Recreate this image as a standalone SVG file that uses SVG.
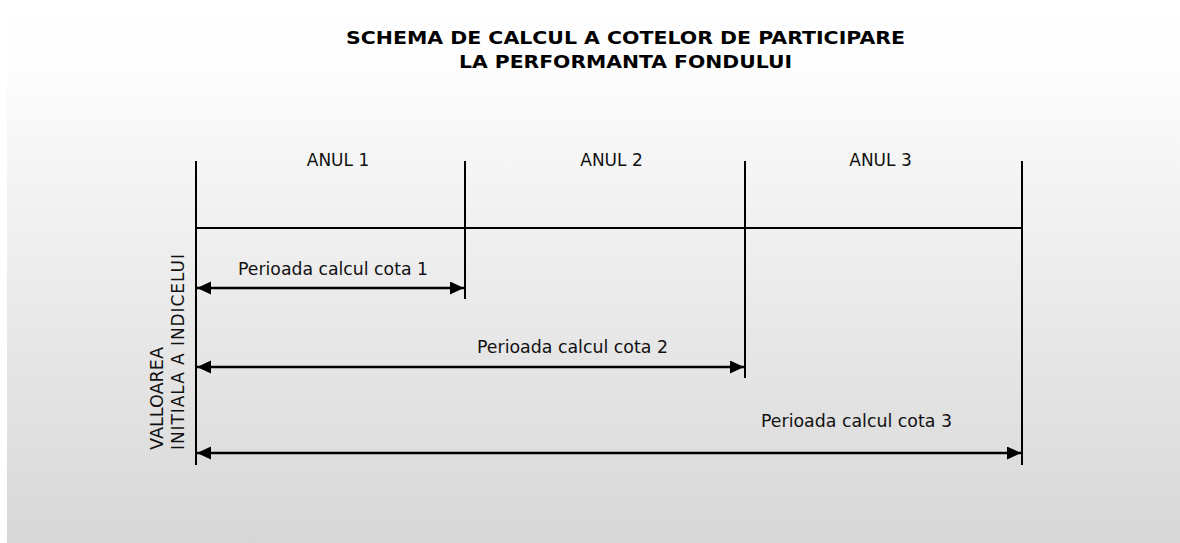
<svg xmlns="http://www.w3.org/2000/svg" width="1180" height="543" viewBox="0 0 1180 543">
<defs>
<linearGradient id="bg" x1="0" y1="0" x2="0" y2="1">
<stop offset="0" stop-color="#ffffff"/>
<stop offset="0.12" stop-color="#fdfdfd"/>
<stop offset="1" stop-color="#d7d7d7"/>
</linearGradient>
<marker id="ah" markerUnits="userSpaceOnUse" markerWidth="16" markerHeight="14" refX="14" refY="6.5" orient="auto-start-reverse">
<path d="M0,0 L14,6.5 L0,13 Z" fill="#000"/>
</marker>
<style>
.t{font-family:"DejaVu Sans",Verdana,sans-serif;font-size:17px;fill:#111}
.title{font-family:"DejaVu Sans",Verdana,sans-serif;font-size:17px;font-weight:bold;fill:#000;text-anchor:middle}
.ln{stroke:#000;stroke-width:2;fill:none}
.ar{stroke:#000;stroke-width:2.5;fill:none;marker-start:url(#ah);marker-end:url(#ah)}
</style>
</defs>
<rect x="0" y="0" width="1180" height="543" fill="#ffffff"/>
<rect x="7" y="0" width="1173" height="543" fill="url(#bg)"/>

<g id="title">
<text class="title" x="625.5" y="44" textLength="559" lengthAdjust="spacingAndGlyphs">SCHEMA DE CALCUL A COTELOR DE PARTICIPARE</text>
<text class="title" x="625.5" y="68" textLength="333" lengthAdjust="spacingAndGlyphs">LA PERFORMANTA FONDULUI</text>
</g>

<g id="grid">
<line class="ln" x1="196" y1="161" x2="196" y2="465"/>
<line class="ln" x1="465" y1="161" x2="465" y2="299"/>
<line class="ln" x1="745" y1="161" x2="745" y2="378"/>
<line class="ln" x1="1022" y1="161" x2="1022" y2="465"/>
<line class="ln" x1="196" y1="228" x2="1022" y2="228"/>
</g>

<g id="year-labels">
<text class="t" x="338" y="166" text-anchor="middle">ANUL 1</text>
<text class="t" x="611.5" y="166" text-anchor="middle">ANUL 2</text>
<text class="t" x="880.5" y="166" text-anchor="middle">ANUL 3</text>
</g>

<g id="connectors">
<line class="ar" x1="197" y1="288" x2="464" y2="288"/>
<line class="ar" x1="197" y1="367" x2="744" y2="367"/>
<line class="ar" x1="197" y1="453" x2="1021" y2="453"/>
</g>

<g id="period-labels">
<text class="t" x="238" y="275" textLength="190" lengthAdjust="spacingAndGlyphs">Perioada calcul cota 1</text>
<text class="t" x="477" y="353" textLength="191" lengthAdjust="spacingAndGlyphs">Perioada calcul cota 2</text>
<text class="t" x="761" y="427" textLength="191" lengthAdjust="spacingAndGlyphs">Perioada calcul cota 3</text>
</g>

<g id="axis-label">
<text class="t" transform="translate(163,450) rotate(-90)" textLength="103" lengthAdjust="spacingAndGlyphs">VALLOAREA</text>
<text class="t" transform="translate(184,450) rotate(-90)" textLength="196" lengthAdjust="spacing">INITIALA A INDICELUI</text>
</g>
</svg>
